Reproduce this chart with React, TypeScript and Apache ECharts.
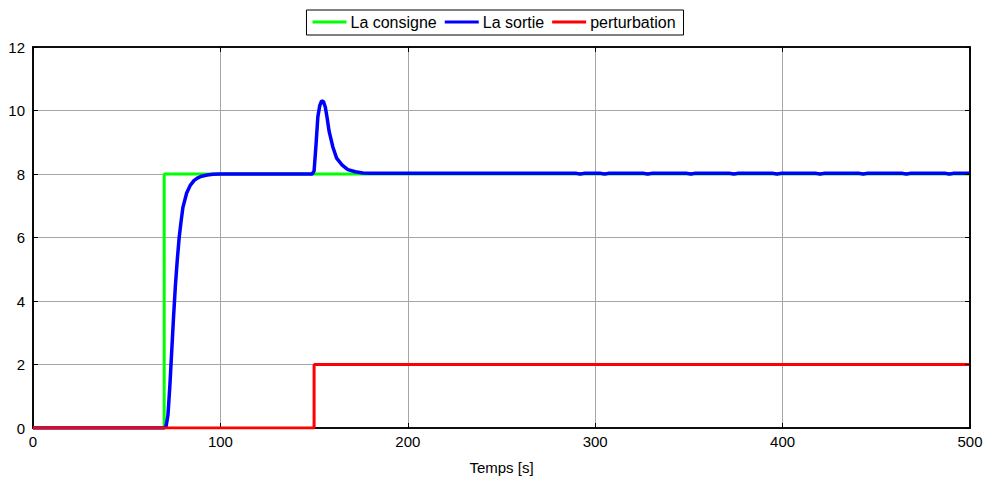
import React, { useEffect, useRef } from "react";
import * as echarts from "echarts";

// Setpoint (consigne): step from 0 to 8 at t = 70 s
const consigne: [number, number][] = [
  [0, 0], [70, 0], [70, 8], [500, 8],
];

// Disturbance (perturbation): step from 0 to 2 at t = 150 s
const perturbation: [number, number][] = [
  [0, 0], [150, 0], [150, 2], [500, 2],
];

// Controlled output (sortie)
const sortie: [number, number][] = [
  [0, 0], [70, 0], [71, 0.05], [72, 0.4], [73, 1.3], [74, 2.4], [75, 3.5],
  [76, 4.5], [77, 5.3], [78, 6.0], [79, 6.5], [80, 6.95], [82, 7.4], [84, 7.65],
  [86, 7.8], [88, 7.88], [90, 7.93], [93, 7.97], [96, 7.99], [100, 8.0],
  [149, 8.0], [150, 8.1], [151, 8.9], [152, 9.8], [153, 10.15], [154, 10.3],
  [155, 10.28], [156, 10.1], [157, 9.75], [158, 9.35], [160, 8.85], [162, 8.5],
  [165, 8.28], [168, 8.14], [172, 8.07], [176, 8.03], [180, 8.02], [290, 8.02],
  [292, 8.0], [294, 8.02], [303, 8.02], [305, 8.0], [307, 8.02],
  [326, 8.02], [328, 8.0], [330, 8.02], [349, 8.02], [351, 8.0], [353, 8.02],
  [372, 8.02], [374, 8.0], [376, 8.02], [395, 8.02], [397, 8.0], [399, 8.02],
  [418, 8.02], [420, 8.0], [422, 8.02], [441, 8.02], [443, 8.0], [445, 8.02],
  [464, 8.02], [466, 8.0], [468, 8.02], [487, 8.02], [489, 8.0], [491, 8.02],
  [500, 8.02],
];

const FONT = "'Liberation Sans', Arial, sans-serif";

export default function App() {
  const ref = useRef<HTMLDivElement>(null);

  useEffect(() => {
    if (!ref.current) return;
    const chart = echarts.init(ref.current, undefined, { renderer: "svg" });
    const axisLine = { show: true, onZero: false, lineStyle: { color: "#000000", width: 1.6 } };
    const tick = { show: true, inside: true, length: 5, lineStyle: { color: "#000000", width: 1 } };
    const grid = {
      show: true,
      showMinLine: false,
      showMaxLine: false,
      lineStyle: { color: "#a6a6a6", width: 1, type: "solid" as const },
    };
    chart.setOption({
      animation: false,
      backgroundColor: "#fff",
      textStyle: { fontFamily: FONT },
      grid: {
        left: 33, right: 18, top: 47, bottom: 55, containLabel: false,
        show: true, borderColor: "#000000", borderWidth: 1.6, backgroundColor: "transparent",
      },
      legend: {
        top: 10,
        left: "center",
        padding: [4, 8, 5, 6],
        borderColor: "#000",
        borderWidth: 1,
        borderRadius: 0,
        itemGap: 8,
        itemWidth: 34,
        itemHeight: 3,
        icon: "rect",
        textStyle: { fontFamily: FONT, fontSize: 16, color: "#000", padding: [0, 0, 0, -1] },
        data: ["La consigne", "La sortie", "perturbation"],
      },
      xAxis: [
        {
          type: "value", min: 0, max: 500, interval: 100,
          name: "Temps [s]", nameLocation: "middle", nameGap: 32,
          nameTextStyle: { fontFamily: FONT, fontSize: 15, color: "#000" },
          axisLine, axisTick: tick, splitLine: grid,
          axisLabel: { fontFamily: FONT, fontSize: 15, color: "#000", margin: 6 },
        },
        {
          type: "value", position: "top", min: 0, max: 500, interval: 100,
          axisLine, axisTick: tick, splitLine: { show: false }, axisLabel: { show: false },
          z: 5,
        },
      ],
      yAxis: [
        {
          type: "value", min: 0, max: 12, interval: 2,
          axisLine, axisTick: tick, splitLine: grid,
          axisLabel: { fontFamily: FONT, fontSize: 15, color: "#000", margin: 8 },
        },
        {
          type: "value", position: "right", min: 0, max: 12, interval: 2,
          axisLine, axisTick: tick, splitLine: { show: false }, axisLabel: { show: false },
          z: 5,
        },
      ],
      series: [
        {
          name: "La consigne", type: "line", data: consigne, showSymbol: false,
          lineStyle: { color: "#00ff00", width: 3 }, itemStyle: { color: "#00ff00" }, z: 2,
        },
        {
          name: "La sortie", type: "line", data: sortie, showSymbol: false,
          lineStyle: { color: "#0000ff", width: 3.5 }, itemStyle: { color: "#0000ff" }, z: 3,
        },
        {
          name: "perturbation", type: "line", data: perturbation, showSymbol: false,
          lineStyle: { color: "#ff0000", width: 3 }, itemStyle: { color: "#ff0000" }, z: 4,
        },
      ],
    });
    return () => chart.dispose();
  }, []);

  return <div ref={ref} style={{ width: 988, height: 483, position: "absolute", left: 0, top: 0 }} />;
}
